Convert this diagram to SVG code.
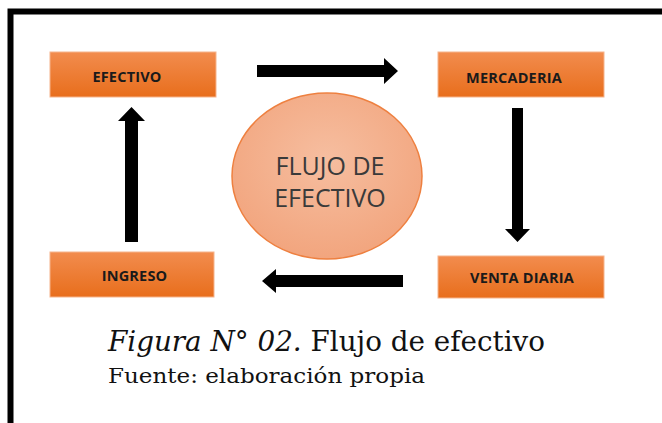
<svg xmlns="http://www.w3.org/2000/svg" width="662" height="423" viewBox="0 0 662 423">
<defs>
<linearGradient id="og" x1="0" y1="0" x2="0" y2="1">
<stop offset="0" stop-color="#F28C4E"/>
<stop offset="1" stop-color="#E86E1C"/>
</linearGradient>
<radialGradient id="cg" cx="0.5" cy="0.4" r="0.6">
<stop offset="0" stop-color="#F6BEA0"/>
<stop offset="1" stop-color="#F2A57E"/>
</radialGradient>
</defs>
<style>
.box{fill:url(#og);stroke:#F6B48C;stroke-width:1}
.lbl{font-family:"Open Sans","Liberation Sans",sans-serif;font-weight:bold;font-size:14.5px;fill:#1a1a1a;text-anchor:middle;letter-spacing:0.2px}
.arr{fill:#000}
.cap{font-family:"DejaVu Serif","Liberation Serif",serif;fill:#111}
</style>
<rect width="662" height="423" fill="#fff"/>
<path d="M10.5,423 V11.5 H662" fill="none" stroke="#000" stroke-width="6"/>
<g id="efectivo">
<rect class="box" x="50" y="52" width="166" height="45"/>
<text class="lbl" x="127" y="82">EFECTIVO</text>
</g>
<g id="mercaderia">
<rect class="box" x="438" y="52" width="166" height="45"/>
<text class="lbl" x="514" y="83">MERCADERIA</text>
</g>
<g id="ingreso">
<rect class="box" x="50" y="252" width="164" height="45"/>
<text class="lbl" x="134.5" y="281">INGRESO</text>
</g>
<g id="venta">
<rect class="box" x="438" y="256" width="166" height="42"/>
<text class="lbl" x="522" y="283">VENTA DIARIA</text>
</g>
<g id="flujo">
<ellipse cx="327" cy="176" rx="95" ry="83" fill="url(#cg)" stroke="#EE8040" stroke-width="1.5"/>
<text x="330" y="175" font-family="'Open Sans','Liberation Sans',sans-serif" font-size="25" fill="#3a3a3a" text-anchor="middle">FLUJO DE</text>
<text x="330" y="207" font-family="'Open Sans','Liberation Sans',sans-serif" font-size="25" fill="#3a3a3a" text-anchor="middle">EFECTIVO</text>
</g>
<g id="connectors">
<polygon class="arr" points="257,65 384,65 384,58 398,71 384,84 384,77 257,77"/>
<polygon class="arr" points="512,108 523,108 523,229 530,229 517.5,242 505,229 512,229"/>
<polygon class="arr" points="403,275 403,287 276,287 276,293 262,281 276,269 276,275"/>
<polygon class="arr" points="125,242 138,242 138,121 145,121 131.5,107 118,121 125,121"/>
</g>
<g id="caption">
<text class="cap" x="108" y="351" font-size="27" textLength="437" lengthAdjust="spacingAndGlyphs"><tspan font-style="italic">Figura N° 02.</tspan> Flujo de efectivo</text>
<text class="cap" x="108" y="383" font-size="21" textLength="317" lengthAdjust="spacingAndGlyphs">Fuente: elaboración propia</text>
</g>
</svg>
